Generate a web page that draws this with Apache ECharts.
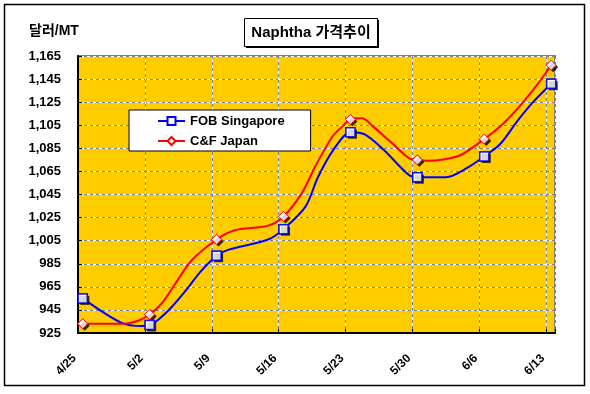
<!DOCTYPE html>
<html><head><meta charset="utf-8">
<script src="https://cdn.jsdelivr.net/npm/echarts@6/dist/echarts.min.js"></script>
<style>html,body{margin:0;padding:0;background:#fff}#c{width:590px;height:394px}</style>
</head><body><div id="c"></div>
<script>
// Weekly tick labels and the day offsets (from 4/25) of the marked points
const weekLabels = ['4/25','5/2','5/9','5/16','5/23','5/30','6/6','6/13'];
const weekDays = [0, 7, 14, 21, 28, 35, 42, 49];
// Marked weekly values (US$/MT)
const fobWeekly = [955, 932, 992, 1015, 1099, 1060, 1078, 1141];
const cfWeekly  = [933, 941, 1006, 1026, 1110, 1075, 1093, 1157];
// Unmarked readings between the weekly points: [day, value]
const fobBetween = [[4,934],[6.2,931],[7.9,936.5],[9.3,947.5],[10.7,961],[12.3,978],[15.2,997],[19.4,1006],[23.3,1034.5],[24.6,1060],[26.2,1083.5],[29.5,1097],[31.5,1083.5],[34.1,1062],[38,1060],[40.2,1068],[43.7,1089],[45.4,1108],[47.1,1125]];
const cfBetween  = [[4.2,933],[5.8,935.6],[8.3,951],[9.7,968],[11.4,988],[15.9,1014],[19.4,1018],[22.9,1046],[24.3,1069],[26.1,1095],[27.1,1103.6],[29.2,1111],[30.4,1103.6],[32.2,1090.6],[34.2,1076],[36,1074.3],[37.7,1075.4],[39.5,1079],[44,1106.5],[45.8,1122.4],[47.5,1139.7]];
const seriesNames = ['FOB Singapore', 'C&F Japan'];
const yMin = 925, yMax = 1165, yStep = 20;

function build(weekly, between) {
  const pts = weekDays.map((d, i) => ({ value: [d, weekly[i]] }));
  between.forEach(p => pts.push({ value: [p[0], p[1]], symbol: 'none' }));
  pts.sort((a, b) => a.value[0] - b.value[0]);
  return pts;
}
function marks(weekly) { return weekDays.map((d, i) => [d, weekly[i]]); }

const FONT = "'Liberation Sans', Arial, 'Noto Sans CJK KR', sans-serif";
const chart = echarts.init(document.getElementById('c'), null, { renderer: 'canvas' });

const xBase = { type: 'value', min: -0.5, max: 49.4, interval: 7 };
const yBase = { type: 'value', min: yMin, max: yMax, interval: yStep };

function lineSeries(name, data, color, symbol, size, bw) {
  return {
    name, type: 'line', data, smooth: 0.3, showAllSymbol: true, z: 2,
    symbol, symbolSize: size,
    lineStyle: { color, width: 2 },
    itemStyle: { color: '#fff', borderColor: color, borderWidth: bw },
    emphasis: { disabled: true }
  };
}
function shadowSeries(name, data, symbol, size) {
  return { name, type: 'scatter', data, symbol, symbolSize: size, symbolOffset: [2, 2], z: 3,
    itemStyle: { color: '#000' }, emphasis: { disabled: true }, silent: true };
}
function markSeries(name, data, color, symbol, size, bw) {
  return { name, type: 'scatter', data, symbol, symbolSize: size, z: 4,
    itemStyle: { color: '#fff', borderColor: color, borderWidth: bw }, emphasis: { disabled: true }, silent: true };
}

chart.setOption({
  backgroundColor: '#ffffff',
  animation: false,
  textStyle: { fontFamily: FONT },
  grid: { left: 78, right: 35, top: 56, bottom: 61, show: true, backgroundColor: '#FFCC00', borderColor: '#808080', borderWidth: 2 },
  graphic: [
    { type: 'rect', shape: { x: 4.5, y: 4.5, width: 580, height: 381 }, style: { fill: 'none', stroke: '#000', lineWidth: 1.5 }, z: 100 },
    { type: 'rect', shape: { x: 246, y: 20, width: 133, height: 28 }, style: { fill: '#000' }, z: 100 },
    { type: 'rect', shape: { x: 244.5, y: 18.5, width: 133, height: 28 }, style: { fill: '#fff', stroke: '#000', lineWidth: 1 }, z: 101 },
    { type: 'text', x: 311, y: 33, style: { text: 'Naphtha 가격추이', font: "bold 15px " + FONT, fill: '#000', align: 'center', verticalAlign: 'middle' }, z: 102 },
    { type: 'text', x: 29, y: 31, style: { text: '달러/MT', font: "bold 14px " + FONT, fill: '#000', align: 'left', verticalAlign: 'middle' }, z: 102 }
  ],
  legend: {
    data: seriesNames,
    orient: 'vertical', left: 129, top: 110,
    backgroundColor: '#fff', borderColor: '#000', borderWidth: 1,
    padding: [4, 26, 3, 28], itemGap: 6, itemWidth: 27, itemHeight: 10,
    textStyle: { fontFamily: FONT, fontWeight: 'bold', fontSize: 13, color: '#000', lineHeight: 14 }
  },
  xAxis: [
    Object.assign({}, xBase, {
      axisLine: { show: true, onZero: false, lineStyle: { color: '#000', width: 2 } },
      axisTick: { show: true, inside: true, length: 4, lineStyle: { color: '#000' } },
      axisLabel: {
        rotate: 45, margin: 20, padding: [0, 5, 0, 0], fontSize: 12, fontWeight: 'bold', color: '#000', fontFamily: FONT,
        formatter: v => { const k = (v + 0.5) / 7; return Math.abs(k - Math.round(k)) < 1e-6 ? (weekLabels[Math.round(k)] || '') : ''; }
      },
      splitLine: { show: true, lineStyle: { color: '#808080', type: [3, 3], width: 1 } }
    }),
    Object.assign({}, xBase, {
      axisLine: { show: false }, axisTick: { show: false }, axisLabel: { show: false },
      splitLine: { show: true, lineStyle: { color: '#ffffff', type: [3, 3], dashOffset: 3, width: 1 } }
    })
  ],
  yAxis: [
    Object.assign({}, yBase, {
      axisLine: { show: true, onZero: false, lineStyle: { color: '#000', width: 2 } },
      axisTick: { show: true, inside: true, length: 4, lineStyle: { color: '#000' } },
      axisLabel: { margin: 17, fontSize: 13, fontWeight: 'bold', color: '#000', fontFamily: FONT,
        formatter: v => v.toLocaleString('en-US') },
      splitLine: { show: true, lineStyle: { color: '#808080', type: [3, 3], width: 1 } }
    }),
    Object.assign({}, yBase, {
      position: 'left',
      axisLine: { show: false, onZero: false }, axisTick: { show: false }, axisLabel: { show: false },
      splitLine: { show: true, lineStyle: { color: '#ffffff', type: [3, 3], dashOffset: 3, width: 1 } }
    })
  ],
  series: [
    lineSeries(seriesNames[0], build(fobWeekly, fobBetween), '#0000FF', 'rect', 9, 1.5),
    lineSeries(seriesNames[1], build(cfWeekly, cfBetween), '#FF0000', 'diamond', 10, 1),
    shadowSeries('fob-shadow', marks(fobWeekly), 'rect', 9),
    shadowSeries('cf-shadow', marks(cfWeekly), 'diamond', 10),
    markSeries('fob-mark', marks(fobWeekly), '#0000FF', 'rect', 9, 1.5),
    markSeries('cf-mark', marks(cfWeekly), '#FF0000', 'diamond', 10, 1)
  ]
});
</script>
</body></html>
